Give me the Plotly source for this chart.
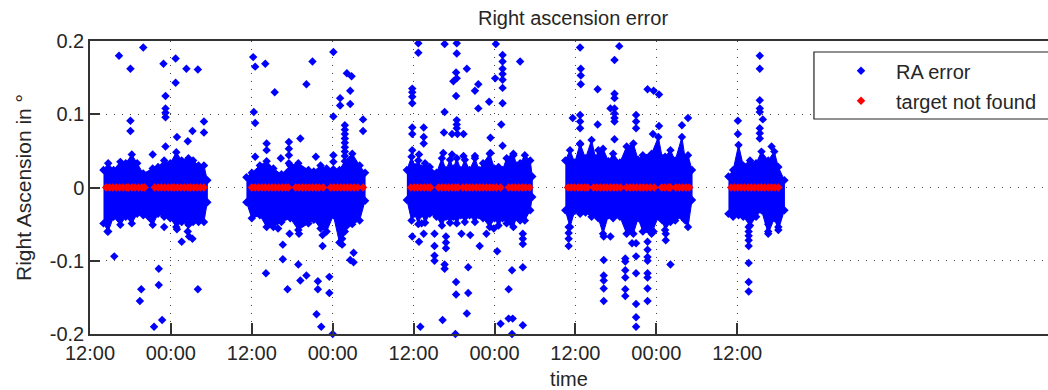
import plotly.graph_objects as go

# Time is in hours after the first 12:00 tick.
tick_hours = [0, 12, 24, 36, 48, 60, 72, 84, 96]
tick_labels = ["12:00", "00:00", "12:00", "00:00", "12:00", "00:00", "12:00", "00:00", "12:00"]
y_ticks = [-0.2, -0.1, 0, 0.1, 0.2]
y_labels = ["-0.2", "-0.1", "0", "0.1", "0.2"]

# Outline of each dense cloud of RA errors
c1_hours = [2.0,2.7,3.5,4.5,5.3,6.2,7.0,7.9,9.3,10.1,11.0,11.9,12.8,13.6,14.6,15.3,16.1,16.9,17.4]
c1_upper = [.024,.033,.024,.035,.033,.045,.033,.019,.026,.028,.037,.033,.048,.037,.040,.037,.030,.030,.010]
c1_lower = [-.049,-.060,-.040,-.051,-.040,-.049,-.036,-.038,-.051,-.036,-.040,-.042,-.054,-.047,-.051,-.047,-.047,-.047,-.020]

c2_hours = [23.2,24.0,25.2,26.2,27.2,28.4,29.7,30.9,32.4,33.2,34.2,35.1,36.1,37.0,37.8,38.9,40.0,40.8]
c2_upper = [.014,.020,.030,.036,.026,.018,.030,.033,.024,.022,.030,.026,.025,.024,.036,.046,.030,.020]
c2_lower = [-.020,-.042,-.038,-.054,-.054,-.047,-.042,-.058,-.049,-.044,-.056,-.060,-.038,-.075,-.060,-.050,-.045,-.018]

c3_hours = [47.0,47.7,48.2,48.7,49.2,49.7,50.4,51.4,52.2,52.8,53.4,53.9,54.4,55.0,55.6,56.3,57.1,57.7,58.3,59.3,60.0,60.6,61.2,61.8,62.8,63.3,63.8,64.5,65.3,65.6]
c3_upper = [.024,.042,.028,.037,.026,.033,.028,.020,.040,.024,.038,.026,.040,.024,.038,.024,.040,.024,.033,.046,.026,.028,.024,.040,.046,.030,.033,.044,.037,.015]
c3_lower = [-.017,-.045,-.036,-.050,-.036,-.048,-.036,-.040,-.052,-.040,-.048,-.040,-.049,-.038,-.047,-.038,-.047,-.038,-.042,-.054,-.042,-.052,-.042,-.049,-.054,-.040,-.045,-.045,-.031,-.013]

c4_hours = [70.5,71.2,71.9,72.7,73.5,74.4,75.0,75.4,76.1,76.9,77.6,78.6,79.6,80.6,81.3,82.0,83.3,84.3,84.9,85.3,86.1,86.8,87.8,88.3,88.7,89.3]
c4_upper = [.037,.051,.034,.060,.040,.065,.040,.051,.053,.036,.046,.034,.056,.060,.038,.044,.046,.069,.040,.042,.051,.037,.069,.038,.044,.024]
c4_lower = [-.031,-.054,-.032,-.036,-.034,-.040,-.036,-.042,-.063,-.038,-.042,-.040,-.063,-.063,-.042,-.060,-.063,-.040,-.045,-.058,-.047,-.045,-.040,-.045,-.054,-.017]

c5_hours = [94.7,95.4,96.2,96.9,97.9,98.8,99.6,100.6,101.5,102.1,103.0]
c5_upper = [.015,.024,.058,.030,.037,.033,.049,.037,.049,.028,.010]
c5_lower = [-.036,-.040,-.038,-.040,-.052,-.040,-.031,-.063,-.042,-.058,-.031]

# Separate RA error points outside the dense clouds (hours, degrees)
c1_points = [(4.3,.18),(6.0,.162),(7.9,.191),(10.9,.169),(12.7,.176),(12.7,.143),(14.3,.162),(16.0,.161),
    (11.2,.125),(11.2,.108),(11.2,.102),(11.2,.096),(6.0,.091),(6.0,.077),(16.9,.09),(16.9,.075),(15.2,.077),
    (12.9,.069),(14.5,.063),(11.2,.056),(9.3,.045),(3.6,-.094),(10.2,-.111),(10.2,-.133),(7.6,-.139),(7.4,-.155),
    (16.0,-.139),(10.7,-.181),(9.5,-.190),(11.0,-.054),(12.9,-.057),(14.5,-.060),(14.7,-.067),(13.6,-.074),
    (15.2,-.070),(2.6,-.06)]
c2_points = [(24.2,.178),(24.5,.165),(26.0,.169),(27.4,.13),(32.1,.141),(33.0,.172),(36.1,.185),(38.1,.156),
    (38.8,.152),(37.1,.122),(37.1,.112),(38.6,.132),(38.6,.114),(24.3,.103),(24.5,.088),(36.1,.097),(40.5,.093),
    (40.5,.077),(37.8,.085),(37.8,.079),(37.8,.073),(37.8,.067),(37.8,.061),(37.8,.055),(37.8,.049),(37.8,.043),
    (26.2,.06),(26.2,.051),(29.5,.062),(29.5,.053),(29.5,.044),(29.5,.033),(31.2,.067),(28.3,.04),(33.5,.042),
    (24.5,.042),(36.1,.044),(36.1,.035),(26.1,-.117),(28.6,-.078),(28.6,-.098),(29.3,-.139),(30.9,-.105),
    (31.2,-.127),(32.1,-.120),(33.8,-.128),(33.8,-.139),(33.6,-.173),(34.3,-.190),(35.5,-.122),(35.5,-.144),
    (36.0,-.2),(34.5,-.065),(34.5,-.080),(37.4,-.063),(37.4,-.07),(37.4,-.078),(38.6,-.099),(39.1,-.089),
    (39.1,-.102),(29.6,-.063),(31.0,-.063),(27.9,-.056)]
c3_points = [(48.7,.197),(48.7,.184),(52.6,.196),(54.4,.197),(54.4,.183),(60.2,.196),(61.2,.181),(61.2,.172),
    (61.2,.162),(61.2,.155),(61.2,.147),(63.8,.172),(55.9,.162),(54.3,.157),(54.4,.149),(53.9,.145),(57.6,.141),
    (57.1,.132),(60.1,.149),(61.2,.136),(47.8,.135),(47.8,.130),(47.8,.124),(47.8,.115),(54.3,.125),(52.6,.103),
    (59.2,.117),(57.6,.108),(61.2,.115),(54.4,.092),(54.4,.086),(54.4,.081),(47.8,.082),(47.8,.073),(49.5,.082),
    (49.5,.069),(49.5,.06),(52.5,.075),(53.7,.073),(54.5,.073),(55.4,.073),(61.0,.086),(59.4,.068),(61.2,.057),
    (47.8,.051),(48.8,.045),(52.4,.047),(53.7,.045),(55.4,.043),(57.1,.043),(59.4,.047),(62.8,.044),
    (47.8,-.067),(48.8,-.074),(49.5,-.063),(49.2,-.049),(51.1,-.063),(51.1,-.080),(51.1,-.093),(51.1,-.100),
    (52.6,-.105),(52.6,-.111),(52.8,-.067),(52.8,-.075),(52.8,-.083),(56.1,-.109),(57.8,-.080),(54.3,-.129),
    (54.3,-.146),(56.1,-.144),(55.9,-.172),(52.3,-.181),(49.0,-.190),(54.2,-.200),(60.4,-.087),(62.6,-.113),
    (64.2,-.109),(62.1,-.139),(60.9,-.186),(62.1,-.179),(62.7,-.179),(64.2,-.188),(62.6,-.200),(64.2,-.063),
    (64.2,-.070),(64.2,-.077),(55.1,-.063),(56.4,-.065),(58.8,-.063),(59.9,-.056)]
c4_points = [(72.7,.191),(78.5,.193),(77.8,.174),(72.8,.162),(72.8,.153),(72.8,.141),(75.3,.134),(82.7,.134),
    (83.6,.132),(84.4,.127),(77.8,.128),(77.8,.122),(77.2,.108),(77.8,.108),(77.8,.101),(77.8,.095),(77.8,.09),
    (81.0,.099),(81.0,.09),(81.0,.081),(71.6,.095),(72.7,.099),(72.7,.09),(72.7,.081),(75.3,.086),(84.4,.084),
    (87.8,.085),(88.7,.095),(77.8,.066),(83.5,.073),(72.7,.059),(71.0,-.054),(71.0,-.062),(71.0,-.07),(71.0,-.08),
    (76.2,-.099),(76.2,-.12),(76.2,-.127),(76.2,-.138),(76.2,-.155),(76.2,-.067),(77.2,-.067),(79.4,-.097),
    (79.4,-.101),(79.4,-.113),(79.4,-.123),(79.4,-.139),(79.4,-.148),(81.0,-.076),(81.0,-.094),(81.0,-.117),
    (81.0,-.159),(81.0,-.177),(81.0,-.190),(80.4,-.076),(82.7,-.074),(82.7,-.085),(82.7,-.095),(82.7,-.1),
    (82.7,-.117),(82.7,-.123),(82.7,-.138),(82.7,-.155),(85.4,-.063),(85.4,-.072),(86.1,-.105),(83.6,-.06)]
c5_points = [(99.35,.18),(99.35,.162),(99.35,.119),(99.35,.108),(99.35,.103),(99.8,.093),(96.1,.091),(96.1,.073),
    (99.35,.081),(99.35,.074),(99.35,.067),(101.1,.056),(97.7,-.054),(97.7,-.06),(97.7,-.066),(97.7,-.072),
    (97.7,-.08),(97.7,-.103),(97.7,-.129),(97.7,-.142),(100.6,-.05),(100.6,-.06),(102.1,-.054)]

# Times at which the target was not found (all at zero error)
not_found_hours = [
    2.4,2.9,3.4,3.9,4.4,4.9,5.4,5.7,6.2,6.7,7.2,7.7,8.1,
    9.6,10.1,10.6,11.1,11.6,12.1,12.5,13.0,13.5,14.0,14.5,14.9,15.4,15.9,16.4,16.9,
    24.0,24.5,25.0,25.5,26.0,26.5,27.0,27.5,28.0,28.5,29.0,29.4,
    30.5,31.0,31.5,32.0,32.5,33.0,33.5,34.0,34.6,
    35.7,36.2,36.7,37.2,37.7,38.2,38.7,39.2,39.7,40.5,
    47.6,48.1,48.6,49.1,49.6,50.1,50.5,
    51.7,52.2,52.7,53.2,53.7,54.2,54.6,55.3,55.8,56.3,56.8,57.3,57.8,58.3,58.8,59.3,59.8,60.3,60.9,
    62.1,62.6,63.1,63.6,64.1,64.6,65.2,
    70.9,71.4,71.9,72.4,72.9,73.4,73.8,74.7,75.2,75.7,76.2,76.7,77.2,77.7,78.2,78.7,
    79.6,80.1,80.6,81.1,81.6,82.1,82.6,83.1,83.7,84.8,85.3,85.8,86.1,86.9,87.4,87.9,88.4,88.9,
    95.1,95.6,96.1,96.6,97.1,97.6,98.1,98.6,99.1,99.6,100.1,100.6,101.1,101.6,102.1]

clusters = [
    (c1_hours, c1_upper, c1_lower, c1_points),
    (c2_hours, c2_upper, c2_lower, c2_points),
    (c3_hours, c3_upper, c3_lower, c3_points),
    (c4_hours, c4_upper, c4_lower, c4_points),
    (c5_hours, c5_upper, c5_lower, c5_points),
]

BLUE = "#0000ff"
RED = "#ff0000"
INK = "#262626"
FONT = "Liberation Sans"

fig = go.Figure()

ra_x, ra_y = [], []
for hours, upper, lower, points in clusters:
    fig.add_trace(go.Scatter(
        x=hours + hours[::-1], y=upper + lower[::-1], mode="lines", fill="toself",
        fillcolor=BLUE, line=dict(color=BLUE, width=1), showlegend=False, hoverinfo="skip"))
    ra_x += hours + hours + [p[0] for p in points]
    ra_y += upper + lower + [p[1] for p in points]

fig.add_trace(go.Scatter(
    x=ra_x, y=ra_y, mode="markers", name="RA error", legendgroup="ra", cliponaxis=False,
    marker=dict(symbol="diamond", size=6.5, color=BLUE)))
fig.add_trace(go.Scatter(
    x=not_found_hours, y=[0] * len(not_found_hours), mode="markers", name="target not found",
    legendgroup="nf", cliponaxis=False,
    marker=dict(symbol="diamond", size=6.5, color=RED)))

# Legend frame runs past the right edge of the picture, as in the reference
fig.add_shape(type="rect", xref="paper", yref="paper", x0=0.7557, x1=1.05, y0=0.7338, y1=0.9625,
              line=dict(color="#222222", width=1.2), fillcolor="white", layer="above")

fig.update_layout(
    width=1048, height=390, autosize=False,
    margin=dict(l=90, r=0, t=41, b=56),
    paper_bgcolor="white", plot_bgcolor="white",
    font=dict(family=FONT, size=20, color=INK),
    title=dict(text="Right ascension error", x=573 / 1048, xanchor="center", y=0.955, yanchor="middle",
               font=dict(family=FONT, size=20, color=INK)),
    legend=dict(x=(826 - 90) / 958, xanchor="left", y=0.965, yanchor="top", bgcolor="rgba(0,0,0,0)",
                borderwidth=0, itemwidth=60, tracegroupgap=1, traceorder="grouped",
                font=dict(family=FONT, size=20, color=INK)),
    xaxis=dict(range=[0, 142.1], tickmode="array", tickvals=tick_hours, ticktext=tick_labels,
               ticks="inside", ticklen=11, tickwidth=1.5, tickcolor="#333333", showline=True, mirror=True,
               linecolor="#333333", linewidth=1.5, showgrid=True, gridcolor="#444444", gridwidth=1,
               griddash="1px,7px", zeroline=False,
               title=dict(text="time", standoff=9, font=dict(family=FONT, size=20, color=INK))),
    yaxis=dict(range=[-0.2, 0.2], tickmode="array", tickvals=y_ticks, ticktext=y_labels,
               ticks="inside", ticklen=10, tickwidth=1.5, tickcolor="#333333", showline=True,
               linecolor="#333333", linewidth=1.5, showgrid=True, gridcolor="#444444", gridwidth=1,
               griddash="1px,7px", zeroline=False,
               title=dict(text="Right Ascension in °", standoff=12, font=dict(family=FONT, size=21, color=INK))),
)

# The page's default body margin would push the figure 8 px right and down.
fig.write_html("out.html", config={"displayModeBar": False}, post_script="document.body.style.margin='0';")
